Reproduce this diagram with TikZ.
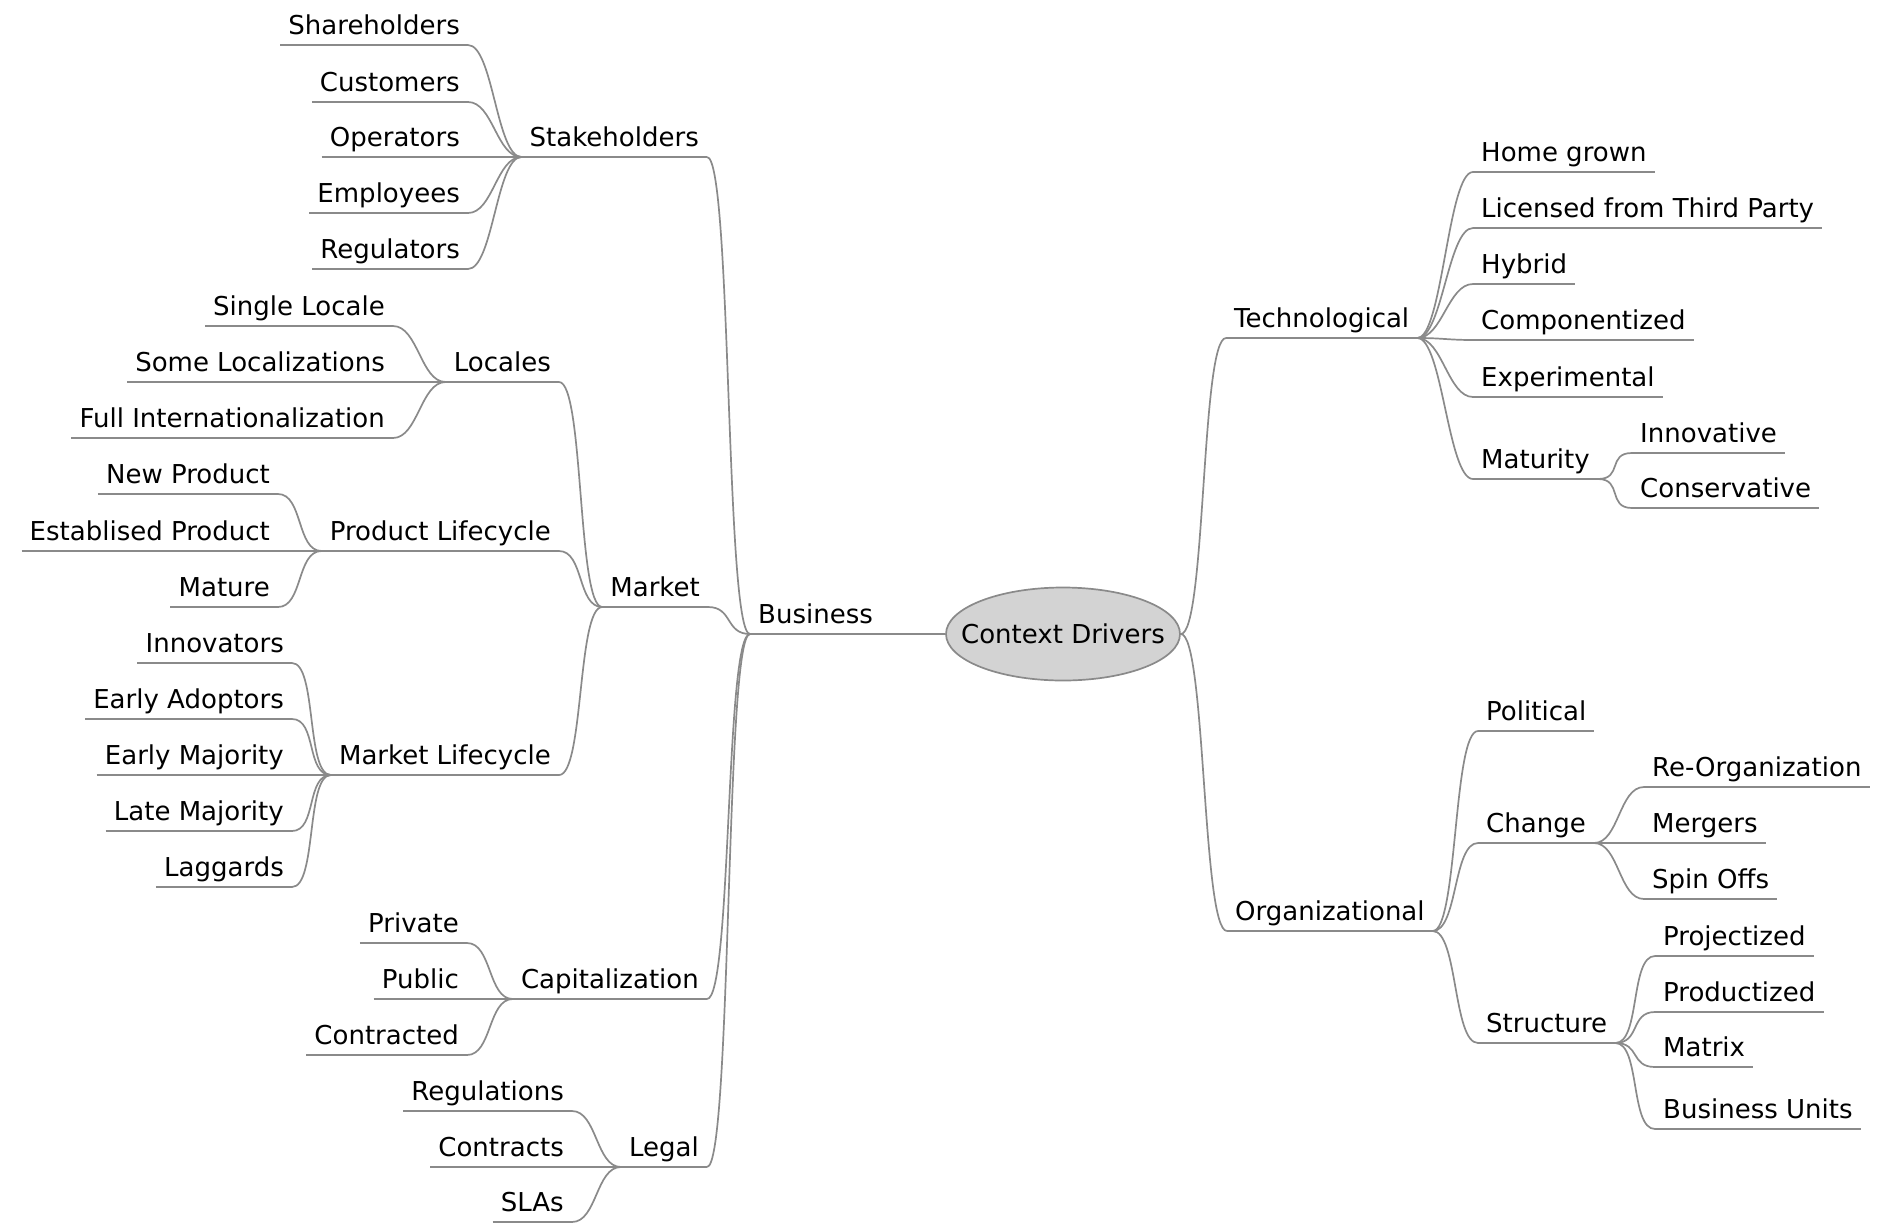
\documentclass[tikz,border=0pt]{standalone}
\usepackage{fontspec}
\setmainfont{DejaVu Sans}
\usetikzlibrary{shapes.geometric}
\definecolor{linegray}{HTML}{8A8A8A}
\definecolor{rootfill}{HTML}{D3D3D3}
\begin{document}
\begin{tikzpicture}[x=1pt,y=-1pt,
  mm/.style={inner xsep=8pt, inner ysep=0pt, text height=19pt, text depth=10pt, font=\fontsize{26}{30}\selectfont},
  lnode/.style={mm, anchor=south east},
  rnode/.style={mm, anchor=south west},
  con/.style={draw=linegray, line width=1.7pt},
]
\useasboundingbox (0,0) rectangle (1884,1224);

\node[ellipse, fill=rootfill, draw=linegray, line width=1.7pt, minimum width=234pt, minimum height=93pt, inner sep=0pt] (root) at (1063,634) {};
\node[inner sep=0pt, font=\fontsize{26}{30}\selectfont] (roottext) at (root.center) {Context Drivers};

% ---------- left side ----------
\node[rnode] (bus) at (750,634) {Business};

\node[lnode] (stk) at (707,157) {Stakeholders};
\node[lnode] (sh)  at (468,45)  {Shareholders};
\node[lnode] (cu)  at (468,102) {Customers};
\node[lnode] (op)  at (468,157) {Operators};
\node[lnode] (em)  at (468,213) {Employees};
\node[lnode] (rg)  at (468,269) {Regulators};

\node[lnode] (mkt) at (708,607) {Market};
\node[lnode] (loc) at (559,382) {Locales};
\node[lnode] (sl)  at (393,326) {Single Locale};
\node[lnode] (sloc) at (393,382) {Some Localizations};
\node[lnode] (fi)  at (393,438) {Full Internationalization};
\node[lnode] (pl)  at (559,551) {Product Lifecycle};
\node[lnode] (np)  at (278,494) {New Product};
\node[lnode] (ep)  at (278,551) {Establised Product};
\node[lnode] (ma)  at (278,607) {Mature};
\node[lnode] (ml)  at (559,775) {Market Lifecycle};
\node[lnode] (inn) at (292,663) {Innovators};
\node[lnode] (ea)  at (292,719) {Early Adoptors};
\node[lnode] (emj) at (292,775) {Early Majority};
\node[lnode] (lm)  at (292,831) {Late Majority};
\node[lnode] (lg)  at (292,887) {Laggards};

\node[lnode] (cap) at (707,999) {Capitalization};
\node[lnode] (pri) at (467,943) {Private};
\node[lnode] (pub) at (467,999) {Public};
\node[lnode] (ctd) at (467,1055) {Contracted};

\node[lnode] (leg) at (707,1167) {Legal};
\node[lnode] (reg) at (572,1111) {Regulations};
\node[lnode] (ctr) at (572,1167) {Contracts};
\node[lnode] (sla) at (572,1222) {SLAs};

% ---------- right side ----------
\node[rnode] (tec) at (1226,338) {Technological};
\node[rnode] (hg)  at (1473,172) {Home grown};
\node[rnode] (lic) at (1473,228) {Licensed from Third Party};
\node[rnode] (hyb) at (1473,284) {Hybrid};
\node[rnode] (cmp) at (1473,340) {Componentized};
\node[rnode] (exq) at (1473,397) {Experimental};
\node[rnode] (mat) at (1473,479) {Maturity};
\node[rnode] (inv) at (1632,453) {Innovative};
\node[rnode] (cns) at (1632,508) {Conservative};

\node[rnode] (org) at (1227,931) {Organizational};
\node[rnode] (pol) at (1478,731) {Political};
\node[rnode] (chg) at (1478,843) {Change};
\node[rnode] (reo) at (1644,787) {Re-Organization};
\node[rnode] (mrg) at (1644,843) {Mergers};
\node[rnode] (spn) at (1644,899) {Spin Offs};
\node[rnode] (str) at (1478,1043) {Structure};
\node[rnode] (prj) at (1655,956) {Projectized};
\node[rnode] (prd) at (1655,1012) {Productized};
\node[rnode] (mtx) at (1655,1067) {Matrix};
\node[rnode] (bun) at (1655,1129) {Business Units};

% ---------- underlines ----------
\foreach \n in {bus,stk,sh,cu,op,em,rg,mkt,loc,sl,sloc,fi,pl,np,ep,ma,ml,inn,ea,emj,lm,lg,cap,pri,pub,ctd,leg,reg,ctr,sla,
  tec,hg,lic,hyb,cmp,exq,mat,inv,cns,org,pol,chg,reo,mrg,spn,str,prj,prd,mtx,bun}
  \draw[con] (\n.south west) -- (\n.south east);

% ---------- connectors ----------
\draw[con] (bus.south east) -- (root.west);
\foreach \c/\p in {stk/bus,mkt/bus,cap/bus,leg/bus,
  sh/stk,cu/stk,op/stk,em/stk,rg/stk,
  loc/mkt,pl/mkt,ml/mkt,
  sl/loc,sloc/loc,fi/loc,
  np/pl,ep/pl,ma/pl,
  inn/ml,ea/ml,emj/ml,lm/ml,lg/ml,
  pri/cap,pub/cap,ctd/cap,
  reg/leg,ctr/leg,sla/leg}
  \draw[con] (\c.south east) .. controls +(25,0) and +(-25,0) .. (\p.south west);

\draw[con] (root.east) .. controls +(25,0) and +(-25,0) .. (tec.south west);
\draw[con] (root.east) .. controls +(25,0) and +(-25,0) .. (org.south west);
\foreach \p/\c in {tec/hg,tec/lic,tec/hyb,tec/cmp,tec/exq,tec/mat,
  mat/inv,mat/cns,
  org/pol,org/chg,org/str,
  chg/reo,chg/mrg,chg/spn,
  str/prj,str/prd,str/mtx,str/bun}
  \draw[con] (\p.south east) .. controls +(25,0) and +(-25,0) .. (\c.south west);
\end{tikzpicture}
\end{document}
